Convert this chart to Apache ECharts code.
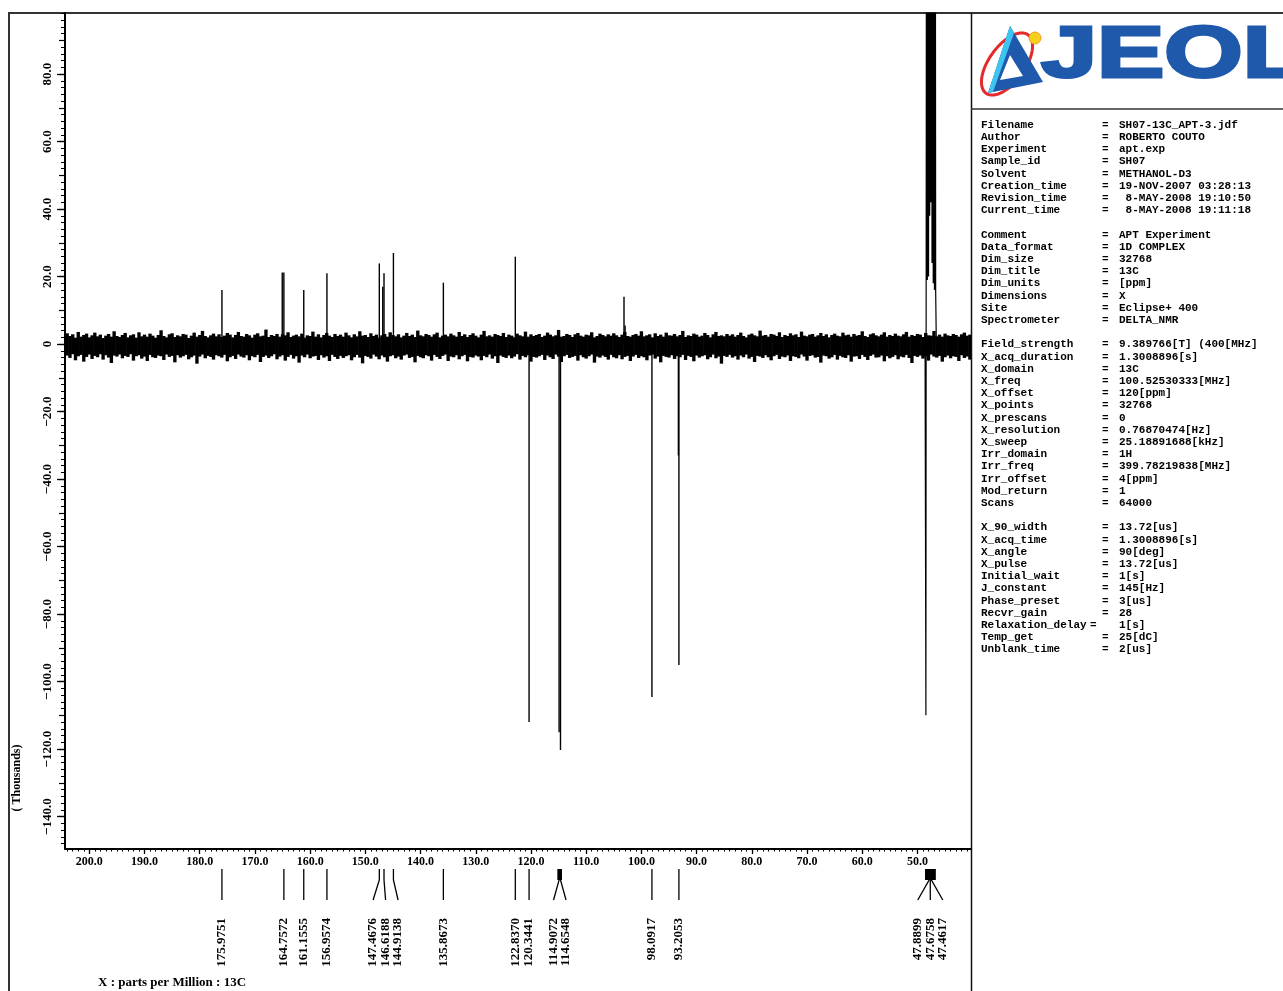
<!DOCTYPE html>
<html><head><meta charset="utf-8">
<script src="https://cdn.jsdelivr.net/npm/echarts@6/dist/echarts.min.js"></script>
<style>html,body{margin:0;padding:0;background:#fff}#c{width:1283px;height:991px}</style>
</head><body><div id="c"></div>
<script>
// ---------------- data ----------------
// x axis: chemical shift (ppm), y axis: intensity (thousands)
const xTickLabels = [200,190,180,170,160,150,140,130,120,110,100,90,80,70,60,50];
const yTickLabels = [80,60,40,20,0,-20,-40,-60,-80,-100,-120,-140];

// resolved peaks (ppm, intensity in thousands)
const peakPpm = [175.9751,165.05,164.7572,161.1555,156.9574,147.4676,146.85,146.6188,144.9138,135.8673,122.8370,120.3441,114.9072,114.6548,103.15,102.95,98.0917,93.30,93.2053];
const peakVal = [16.0,21.2,21.2,16.0,21.0,23.9,17.0,21.0,27.0,18.2,25.9,-112.0,-115.0,-120.3,14.0,5.5,-104.6,-33.0,-95.1];

// picked-peak labels (ppm)
const labelPpm = [175.9751,164.7572,161.1555,156.9574,147.4676,146.6188,144.9138,135.8673,122.8370,120.3441,114.9072,114.6548,98.0917,93.2053,47.8899,47.6758,47.4617];

// solvent multiplet (METHANOL-D3), goes off scale
const solventPpm = [48.62,48.47,48.42,48.32,48.21,48.10,47.99,47.89,47.78,47.68,47.57,47.46,47.36,47.25,47.14,47.03,46.92,46.82,46.70,46.58];
const solventVal = [0,-110,18,300,19,300,20,300,38,300,42,300,24,300,18,300,16,300,16,0];

// baseline noise envelope, read every 0.5 ppm starting at 204.0 ppm
const noiseStart = 204.0, noiseStep = 0.5;
const noiseHi = [
3.2,2.4,2.9,1.9,3.6,2.2,2.7,3.1,2.0,2.6,3.4,2.3,2.8,1.8,2.5,3.0,2.2,3.8,2.4,2.1,
2.7,3.3,2.0,2.6,2.9,1.9,3.5,2.3,2.8,2.2,3.1,2.5,1.9,2.7,4.1,2.4,2.0,2.9,3.2,2.1,
2.6,2.3,3.0,2.8,1.8,2.5,3.4,2.2,2.7,3.9,2.4,2.0,2.6,3.1,2.3,2.9,2.1,2.5,3.3,2.8,
2.0,2.7,3.6,2.4,2.2,3.0,2.6,1.9,2.8,3.2,2.3,2.5,4.3,2.1,2.7,2.4,3.0,2.2,2.9,2.6,
3.5,2.1,2.5,2.8,2.3,3.1,1.9,2.6,2.4,3.7,2.2,2.9,2.0,2.7,3.3,2.5,2.1,3.0,2.4,2.8,
2.2,3.4,2.6,2.0,2.9,2.3,3.8,2.5,2.7,2.1,3.2,2.4,2.8,1.9,2.6,3.0,2.2,3.5,2.7,2.3,
2.9,2.0,2.5,3.3,2.4,2.8,2.1,4.0,2.6,2.3,3.0,2.7,2.2,2.9,3.4,2.0,2.5,2.8,2.3,3.1,
2.6,2.2,3.6,2.4,2.9,2.1,2.7,3.2,2.5,2.0,2.8,3.9,2.3,2.6,2.2,3.0,2.7,2.4,3.3,2.1,
2.8,2.5,2.0,3.1,2.6,2.3,3.7,2.2,2.9,2.4,2.7,3.0,2.1,2.5,3.4,2.8,2.3,2.6,4.2,2.2,
2.4,3.0,2.7,2.1,2.9,3.3,2.5,2.2,2.8,2.6,3.5,2.0,2.4,3.1,2.7,2.3,2.9,2.5,3.2,2.6,
2.1,2.8,3.6,2.4,2.2,2.7,3.0,2.5,3.8,2.3,2.6,2.9,2.0,3.2,2.4,2.8,2.2,3.4,2.6,2.5,
3.0,2.3,2.7,3.9,2.1,2.6,2.4,3.1,2.8,2.2,2.5,3.3,2.7,2.0,2.9,3.6,2.4,2.6,2.3,3.0,
2.5,2.9,2.2,2.7,3.4,2.4,2.0,2.8,3.1,2.6,2.3,4.0,2.5,2.7,2.2,3.0,2.8,2.4,3.5,2.1,
2.7,2.4,3.2,2.6,2.9,2.1,3.7,2.5,2.3,2.8,3.0,2.2,2.6,3.3,2.4,2.9,2.0,2.7,3.1,2.5,
2.3,3.4,2.6,2.8,2.2,3.0,2.5,2.7,3.8,2.4,2.1,2.9,3.2,2.6,2.3,2.8,3.5,2.2,2.7,2.4,
3.1,2.5,2.3,2.9,3.6,2.2,2.7,2.4,3.0,2.8,2.1,3.3,2.6,2.5,3.9,2.3,2.8,2.2,3.1,2.6,
2.4,3.0,2.7,2.2,2.9,3.4,2.5,2.8];
const noiseLo = [
-3.4,-4.1,-3.0,-4.8,-3.6,-3.2,-5.2,-3.8,-3.1,-4.4,-3.5,-3.9,-3.0,-4.6,-3.3,-4.0,-5.6,-3.4,-3.7,-3.1,
-4.2,-3.5,-3.8,-3.0,-4.9,-3.6,-3.3,-4.3,-3.7,-5.0,-3.2,-3.9,-4.1,-3.4,-3.6,-4.7,-3.1,-3.8,-3.5,-5.4,
-3.3,-4.0,-3.6,-3.2,-4.5,-3.9,-3.4,-5.8,-3.7,-3.1,-4.2,-3.5,-3.8,-4.6,-3.3,-3.6,-4.0,-3.2,-5.1,-3.9,
-3.5,-4.4,-3.1,-3.7,-4.0,-3.3,-4.8,-3.6,-3.9,-3.2,-5.3,-3.8,-3.4,-4.1,-3.6,-3.0,-4.5,-3.7,-3.3,-4.9,
-3.8,-3.2,-4.3,-3.6,-5.5,-3.4,-3.9,-3.1,-4.2,-3.7,-3.5,-4.7,-3.3,-4.0,-3.6,-5.0,-3.2,-3.8,-4.4,-3.5,
-4.1,-3.6,-3.3,-4.8,-3.9,-3.2,-4.0,-5.7,-3.5,-3.8,-4.3,-3.1,-3.7,-4.5,-3.4,-3.9,-5.2,-3.6,-3.3,-4.2,
-3.7,-4.6,-3.4,-3.1,-4.1,-3.8,-5.4,-3.5,-3.9,-4.2,-3.3,-3.6,-4.9,-3.2,-3.8,-4.4,-3.5,-3.1,-5.0,-3.7,
-3.9,-3.3,-4.5,-3.6,-3.2,-5.1,-3.8,-4.0,-3.4,-3.7,-4.8,-3.5,-3.9,-3.1,-4.3,-3.6,-5.6,-3.4,-3.8,-4.1,
-3.4,-4.2,-3.7,-3.0,-4.6,-3.5,-3.9,-3.3,-5.2,-3.8,-4.0,-3.6,-3.2,-4.7,-3.4,-3.9,-4.4,-3.1,-3.7,-5.3,
-3.6,-3.2,-4.1,-3.8,-3.5,-4.9,-3.3,-3.9,-4.3,-3.6,-3.1,-5.5,-3.7,-4.0,-3.4,-3.8,-4.6,-3.2,-3.9,-4.2,
-3.3,-4.5,-3.8,-3.5,-5.0,-3.7,-3.2,-4.1,-3.6,-3.9,-4.8,-3.4,-3.1,-4.3,-3.7,-5.4,-3.5,-3.8,-4.0,-3.3,
-4.4,-3.6,-3.9,-3.2,-4.7,-3.5,-3.8,-5.1,-3.4,-4.0,-3.6,-3.3,-4.5,-3.9,-3.1,-4.2,-3.7,-5.8,-3.5,-3.8,
-3.2,-4.0,-3.6,-4.6,-3.4,-3.9,-3.1,-4.3,-3.8,-5.3,-3.5,-3.7,-4.1,-3.3,-3.9,-4.8,-3.6,-3.2,-4.4,-3.7,
-3.9,-3.4,-5.0,-3.6,-3.8,-4.2,-3.1,-3.7,-4.9,-3.5,-3.3,-4.0,-3.8,-5.5,-3.4,-3.6,-4.3,-3.9,-3.2,-4.6,
-3.5,-3.9,-4.1,-3.3,-5.2,-3.7,-3.6,-4.4,-3.2,-3.8,-4.7,-3.5,-3.1,-4.0,-3.9,-3.4,-5.1,-3.6,-4.2,-3.8,
-3.3,-4.5,-3.7,-3.9,-3.2,-4.1,-5.6,-3.5,-3.8,-3.4,-4.3,-3.6,-4.9,-3.1,-3.7,-4.0,-3.5,-5.2,-3.9,-3.4,
-4.2,-3.6,-3.8,-5.0,-3.3,-4.1,-3.7,-4.6];

// acquisition parameters (right panel)
const paramRows = [
 ['Filename','SH07-13C_APT-3.jdf'],['Author','ROBERTO COUTO'],['Experiment','apt.exp'],['Sample_id','SH07'],
 ['Solvent','METHANOL-D3'],['Creation_time','19-NOV-2007 03:28:13'],['Revision_time',' 8-MAY-2008 19:10:50'],
 ['Current_time',' 8-MAY-2008 19:11:18'],null,
 ['Comment','APT Experiment'],['Data_format','1D COMPLEX'],['Dim_size','32768'],['Dim_title','13C'],
 ['Dim_units','[ppm]'],['Dimensions','X'],['Site','Eclipse+ 400'],['Spectrometer','DELTA_NMR'],null,
 ['Field_strength','9.389766[T] (400[MHz]'],['X_acq_duration','1.3008896[s]'],['X_domain','13C'],
 ['X_freq','100.52530333[MHz]'],['X_offset','120[ppm]'],['X_points','32768'],['X_prescans','0'],
 ['X_resolution','0.76870474[Hz]'],['X_sweep','25.18891688[kHz]'],['Irr_domain','1H'],
 ['Irr_freq','399.78219838[MHz]'],['Irr_offset','4[ppm]'],['Mod_return','1'],['Scans','64000'],null,
 ['X_90_width','13.72[us]'],['X_acq_time','1.3008896[s]'],['X_angle','90[deg]'],['X_pulse','13.72[us]'],
 ['Initial_wait','1[s]'],['J_constant','145[Hz]'],['Phase_preset','3[us]'],['Recvr_gain','28'],
 ['Relaxation_delay','1[s]'],['Temp_get','25[dC]'],['Unblank_time','2[us]']
];

// ---------------- chart ----------------
const X_MIN = 40.3, X_MAX = 204.4, Y_MIN = -149.6, Y_MAX = 98.1;
const SERIF = '"Liberation Serif","Times New Roman",serif';
const MONO = '"Liberation Mono","DejaVu Sans Mono",monospace';

const xMinor = []; for (let v = 41; v <= 204; v++) xMinor.push(v);
const yMid = []; for (let v = -140; v <= 90; v += 10) yMid.push(v);
const yMinor = []; for (let v = -148; v <= 98; v += 2) yMinor.push(v);

const noiseData = noiseHi.map((h, i) => [noiseStart - i * noiseStep, noiseLo[i], h]);
const peakData = peakPpm.map((p, i) => [p, peakVal[i]]);
const solventData = solventPpm.map((p, i) => [p, solventVal[i]]);

// group close labels into clusters (fanned leader lines)
const annData = [];
(function () {
  let i = 0;
  while (i < labelPpm.length) {
    let j = i;
    while (j + 1 < labelPpm.length && labelPpm[j] - labelPpm[j + 1] < 2.2) j++;
    const n = j - i + 1;
    let s = 0; for (let k = i; k <= j; k++) s += labelPpm[k];
    const c = s / n;
    for (let k = i; k <= j; k++) annData.push([labelPpm[k], 0.5, c, (k - i) - (n - 1) / 2, n, labelPpm[i], labelPpm[j]]);
    i = j + 1;
  }
})();

const labelFmtY = v => v === 0 ? '0' : (v < 0 ? '\u2212' : '') + Math.abs(v).toFixed(1);

const chart = echarts.init(document.getElementById('c'));

const G = [];
// frame
G.push({type:'line', silent:true, shape:{x1:8, y1:13, x2:1283, y2:13}, style:{stroke:'#333', lineWidth:2}});
G.push({type:'line', silent:true, shape:{x1:9, y1:12, x2:9, y2:991}, style:{stroke:'#333', lineWidth:2}});
G.push({type:'line', silent:true, shape:{x1:971.5, y1:13, x2:971.5, y2:991}, style:{stroke:'#111', lineWidth:1.5}});
G.push({type:'line', silent:true, shape:{x1:971, y1:109, x2:1283, y2:109}, style:{stroke:'#333', lineWidth:1.5}});
// axis titles
G.push({type:'text', silent:true, x:98, y:983, style:{text:'X : parts per Million : 13C', font:'bold 13px ' + SERIF, fill:'#000', verticalAlign:'middle'}});
G.push({type:'text', silent:true, x:17, y:778, rotation:Math.PI/2, style:{text:'( Thousands)', font:'bold 12px ' + SERIF, fill:'#000', align:'center', verticalAlign:'middle'}});
// logo: orbit ellipse
const ell = [];
for (let k = 0; k < 72; k++) {
  const t = k / 72 * Math.PI * 2, a = -0.95;
  const ex = 36 * Math.cos(t), ey = 18 * Math.sin(t);
  ell.push([1007 + ex * Math.cos(a) - ey * Math.sin(a), 64 + ex * Math.sin(a) + ey * Math.cos(a)]);
}
G.push({type:'polygon', silent:true, shape:{points:ell}, style:{fill:'none', stroke:'#e42a2a', lineWidth:3}});
G.push({type:'polygon', silent:true, shape:{points:[[1010,26],[1043,82],[988,93]]}, style:{fill:'#1f59ab'}});
G.push({type:'polygon', silent:true, shape:{points:[[1010,26],[1014,33],[993,92],[988,93]]}, style:{fill:'#3ec4f0'}});
G.push({type:'polygon', silent:true, shape:{points:[[1010,55],[1023,76],[1000,80]]}, style:{fill:'#fff'}});
G.push({type:'circle', silent:true, shape:{cx:1035, cy:38, r:6}, style:{fill:'#f7cf1d', stroke:'#f0a020', lineWidth:1}});
G.push({type:'text', silent:true, x:1041, y:57, scaleX:1.4, style:{text:'JEOL', font:'bold 72px "Liberation Sans",Arial,sans-serif', fill:'#1f59ab', stroke:'#1f59ab', lineWidth:3, verticalAlign:'middle'}});
// parameter panel
let row = 0;
paramRows.forEach(r => {
  if (r) {
    const y = 125 + row * 12.2;
    const f = 'bold 11px ' + MONO;
    G.push({type:'text', silent:true, x:981, y:y, style:{text:r[0], font:f, fill:'#000', verticalAlign:'middle'}});
    const eqX = r[0].length > 15 ? 1090 : 1102;
    G.push({type:'text', silent:true, x:eqX, y:y, style:{text:'=', font:f, fill:'#000', verticalAlign:'middle'}});
    G.push({type:'text', silent:true, x:1119, y:y, style:{text:r[1], font:f, fill:'#000', verticalAlign:'middle'}});
  }
  row++;
});

const baseX = {type:'value', min:X_MIN, max:X_MAX, inverse:true, position:'bottom', splitLine:{show:false}};
const baseY = {type:'value', min:Y_MIN, max:Y_MAX, position:'left', splitLine:{show:false}};

const option = {
  animation: false,
  backgroundColor: '#fff',
  grid: [
    {left:65, top:13, width:906, height:836, show:false},
    {left:65, top:869, width:906, height:100, show:false}
  ],
  xAxis: [
    Object.assign({}, baseX, {gridIndex:0,
      axisLine:{show:true, onZero:false, lineStyle:{color:'#000', width:2}},
      axisTick:{show:true, inside:false, length:5, customValues:xTickLabels, lineStyle:{color:'#000', width:1.3}},
      axisLabel:{show:true, customValues:xTickLabels, formatter:v => Number(v).toFixed(1), margin:7,
        fontFamily:SERIF, fontWeight:'bold', fontSize:12, color:'#000'}}),
    Object.assign({}, baseX, {gridIndex:0,
      axisLine:{show:false, onZero:false},
      axisTick:{show:true, inside:false, length:2.5, customValues:xMinor, lineStyle:{color:'#000', width:1}},
      axisLabel:{show:false}}),
    Object.assign({}, baseX, {gridIndex:1, show:false})
  ],
  yAxis: [
    Object.assign({}, baseY, {gridIndex:0,
      axisLine:{show:true, onZero:false, lineStyle:{color:'#000', width:2}},
      axisTick:{show:true, inside:false, length:8, customValues:yTickLabels, lineStyle:{color:'#000', width:1.3}},
      axisLabel:{show:true, customValues:yTickLabels, formatter:labelFmtY, rotate:90, margin:11,
        fontFamily:SERIF, fontWeight:'bold', fontSize:13, color:'#000'}}),
    Object.assign({}, baseY, {gridIndex:0,
      axisLine:{show:false, onZero:false},
      axisTick:{show:true, inside:false, length:6, customValues:yMid, lineStyle:{color:'#000', width:1.2}},
      axisLabel:{show:false}}),
    Object.assign({}, baseY, {gridIndex:0,
      axisLine:{show:false, onZero:false},
      axisTick:{show:true, inside:false, length:4, customValues:yMinor, lineStyle:{color:'#000', width:1}},
      axisLabel:{show:false}}),
    {type:'value', gridIndex:1, min:0, max:1, show:false}
  ],
  series: [
    {
      type:'custom', name:'noise', xAxisIndex:0, yAxisIndex:0, clip:true, silent:true,
      data: noiseData, encode:{x:0, y:[1,2]},
      renderItem: (params, api) => {
        const x = api.value(0), lo = api.value(1), hi = api.value(2);
        const a = api.coord([x + noiseStep / 2, hi]);
        const b = api.coord([x - noiseStep / 2, lo]);
        return {type:'rect', shape:{x:a[0] - 0.3, y:a[1], width:b[0] - a[0] + 0.6, height:b[1] - a[1]}, style:{fill:'#000'}};
      }
    },
    {
      type:'custom', name:'peaks', xAxisIndex:0, yAxisIndex:0, clip:true, silent:true,
      data: peakData, encode:{x:0, y:1},
      renderItem: (params, api) => {
        const x = api.value(0), h = api.value(1);
        const p0 = api.coord([x, 0]), p1 = api.coord([x, h]);
        return {type:'line', shape:{x1:p0[0], y1:p0[1], x2:p1[0], y2:p1[1]}, style:{stroke:'#000', lineWidth:1.4}};
      }
    },
    {
      type:'line', name:'solvent', xAxisIndex:0, yAxisIndex:0, data: solventData, clip:true,
      symbol:'none', showSymbol:false, silent:true, lineStyle:{color:'#000', width:1.2}
    },
    {
      type:'custom', name:'picks', xAxisIndex:2, yAxisIndex:3, silent:true,
      data: annData, encode:{x:0, y:1},
      renderItem: (params, api) => {
        const ppm = api.value(0), cppm = api.value(2), off = api.value(3), n = api.value(4);
        const top = params.coordSys.y;
        const px = api.coord([ppm, 0.5])[0];
        const cx = api.coord([cppm, 0.5])[0];
        const lx = n > 1 ? cx + off * 12.5 : px;
        const children = [];
        if (n > 1) {
          children.push({type:'polyline', shape:{points:[[px, top], [px, top + 11], [lx, top + 31]]}, style:{stroke:'#000', lineWidth:1.3, fill:null}});
          const xa = api.coord([api.value(5), 0.5])[0], xb = api.coord([api.value(6), 0.5])[0];
          if (xb - xa < 5) {
            const pad = n > 2 ? 4 : 1.5;
            children.push({type:'rect', shape:{x:xa - pad, y:top, width:xb - xa + 2 * pad, height:11}, style:{fill:'#000'}});
          }
        } else {
          children.push({type:'line', shape:{x1:px, y1:top, x2:px, y2:top + 31}, style:{stroke:'#000', lineWidth:1.3}});
        }
        children.push({type:'text', x:lx, y:top + 49, rotation:Math.PI / 2,
          style:{text: ppm.toFixed(4), font:'bold 13px ' + SERIF, fill:'#000', align:'right', verticalAlign:'middle'}});
        return {type:'group', children};
      }
    }
  ],
  graphic: G
};
chart.setOption(option);
</script>
</body></html>
